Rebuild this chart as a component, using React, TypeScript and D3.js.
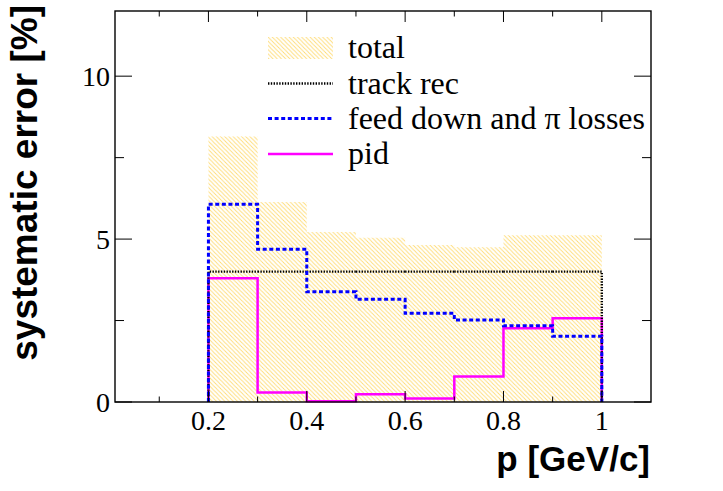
import React from "react";
import * as d3 from "d3";

const binEdges = [0.2, 0.3, 0.4, 0.5, 0.6, 0.7, 0.8, 0.9, 1.0];
const total = [8.15, 6.14, 5.22, 5.04, 4.82, 4.75, 5.12, 5.12];
const trackRec = [4, 4, 4, 4, 4, 4, 4, 4];
const feedDown = [6.07, 4.69, 3.38, 3.15, 2.72, 2.52, 2.34, 2.02];
const pid = [3.8, 0.29, 0.02, 0.24, 0.11, 0.78, 2.26, 2.57];

const xMajor = [0.2, 0.4, 0.6, 0.8, 1.0];
const xMinor = [0.1, 0.3, 0.5, 0.7, 0.9];
const yMajor = [0, 5, 10];
const yMinor = [2.5, 7.5];
const legendLabels = ["total", "track rec", "feed down and \u03c0 losses", "pid"];

const W = 723, H = 491;
const L = 115, R = 651, T = 11, B = 402;

const x = d3.scaleLinear().domain([0.01, 1.1]).range([L, R]);
const y = d3.scaleLinear().domain([0, 12]).range([B, T]);

function stepPoints(vals: number[]): [number, number][] {
  const pts: [number, number][] = [[binEdges[0], 0]];
  vals.forEach((v, i) => {
    pts.push([binEdges[i], v]);
    pts.push([binEdges[i + 1], v]);
  });
  pts.push([binEdges[binEdges.length - 1], 0]);
  return pts;
}

const line = d3.line<[number, number]>().x((d) => x(d[0])).y((d) => y(d[1]));

const serif = "Liberation Serif";
const sans = "Liberation Sans";

export default function App() {
  const hatchPath = line(stepPoints(total)) + "Z";
  const legendY = [48, 83.5, 118.5, 154];
  return (
    <div style={{ position: "fixed", left: 0, top: 0 }}>
      <svg width={W} height={H} style={{ display: "block", background: "#fff" }}>
        <defs>
          <pattern id="hatch" patternUnits="userSpaceOnUse" width={4.2} height={4.2}>
            <path d="M-1,-1 L5.2,5.2 M-1,3.2 L1,5.2 M3.2,-1 L5.2,1" stroke="#ffd24d" strokeWidth={0.85} strokeOpacity={0.8} />
          </pattern>
        </defs>
        <path d={hatchPath} fill="url(#hatch)" stroke="none" />
        <path d={line(stepPoints(pid)) || ""} fill="none" stroke="#ff00ff" strokeWidth={2.5} />
        <path d={line(stepPoints(trackRec)) || ""} fill="none" stroke="#000" strokeWidth={2.4} strokeDasharray="1.4 1.4" />
        <path d={line(stepPoints(feedDown)) || ""} fill="none" stroke="#0000ff" strokeWidth={3} strokeDasharray="4 2.6" />

        {/* frame */}
        <rect x={L} y={T} width={R - L} height={B - T} fill="none" stroke="#000" strokeWidth={1.4} />

        {/* x ticks */}
        {xMajor.map((v) => (
          <g key={"xM" + v}>
            <line x1={x(v)} x2={x(v)} y1={B} y2={B - 11} stroke="#000" strokeWidth={1} />
            <line x1={x(v)} x2={x(v)} y1={T} y2={T + 11} stroke="#000" strokeWidth={1} />
            <text x={x(v)} y={430} textAnchor="middle" fontFamily={serif} fontSize={28}>
              {d3.format("~g")(v)}
            </text>
          </g>
        ))}
        {xMinor.map((v) => (
          <g key={"xm" + v}>
            <line x1={x(v)} x2={x(v)} y1={B} y2={B - 5.5} stroke="#000" strokeWidth={1} />
            <line x1={x(v)} x2={x(v)} y1={T} y2={T + 5.5} stroke="#000" strokeWidth={1} />
          </g>
        ))}
        {/* y ticks */}
        {yMajor.map((v) => (
          <g key={"yM" + v}>
            <line x1={L} x2={L + 17} y1={y(v)} y2={y(v)} stroke="#000" strokeWidth={1} />
            <line x1={R} x2={R - 17} y1={y(v)} y2={y(v)} stroke="#000" strokeWidth={1} />
            <text x={110} y={y(v) + 9.5} textAnchor="end" fontFamily={serif} fontSize={28}>
              {v}
            </text>
          </g>
        ))}
        {yMinor.map((v) => (
          <g key={"ym" + v}>
            <line x1={L} x2={L + 9} y1={y(v)} y2={y(v)} stroke="#000" strokeWidth={1} />
            <line x1={R} x2={R - 9} y1={y(v)} y2={y(v)} stroke="#000" strokeWidth={1} />
          </g>
        ))}

        {/* axis titles */}
        <text x={650} y={471} textAnchor="end" fontFamily={sans} fontWeight="bold" fontSize={35}>
          p [GeV/c]
        </text>
        <text
          transform="translate(37,5) rotate(-90)"
          textAnchor="end"
          fontFamily={sans}
          fontWeight="bold"
          fontSize={37}
        >
          systematic error [%]
        </text>

        {/* legend */}
        <rect x={268} y={37} width={65} height={22} fill="url(#hatch)" />
        <line x1={268} x2={333} y1={legendY[1]} y2={legendY[1]} stroke="#000" strokeWidth={2.4} strokeDasharray="1.4 1.4" />
        <line x1={268} x2={333} y1={legendY[2]} y2={legendY[2]} stroke="#0000ff" strokeWidth={3} strokeDasharray="4 2.6" />
        <line x1={268} x2={333} y1={legendY[3]} y2={legendY[3]} stroke="#ff00ff" strokeWidth={2.5} />
        {legendLabels.map((t, i) => (
          <text key={t} x={348} y={legendY[i] + 10} fontFamily={serif} fontSize={32}>
            {t}
          </text>
        ))}
      </svg>
    </div>
  );
}
